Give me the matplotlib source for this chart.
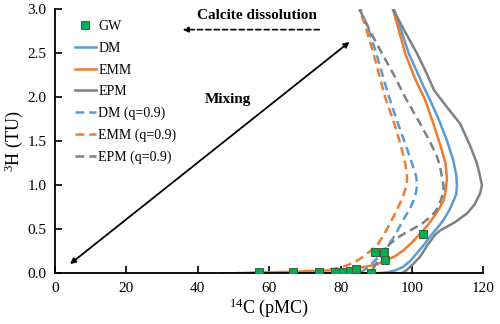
import matplotlib
matplotlib.use("Agg")
import matplotlib.pyplot as plt

plt.rcParams['font.family'] = ['Liberation Serif', 'DejaVu Serif']
plt.rcParams['mathtext.fontset'] = 'custom'
plt.rcParams['mathtext.rm'] = 'Liberation Serif'
plt.rcParams['mathtext.it'] = 'Liberation Serif:italic'

# Observed groundwater samples
gw_c = [57.2, 66.8, 73.9, 78.5, 80.6, 82.7, 84.3, 88.6, 89.6, 92.1, 92.4, 103.0]
gw_h = [0.01, 0.015, 0.01, 0.01, 0.02, 0.03, 0.05, 0.0, 0.24, 0.24, 0.15, 0.45]

# Dispersion model (DM)
dm_c = [47.0, 88.0, 91.0, 93.0, 95.5, 97.6, 99.5, 101.4, 103.3, 105.1, 107.2, 108.9,
        110.5, 111.7, 112.4, 112.6, 112.4, 111.6, 109.8, 107.5, 105.3, 103.3, 99.1, 95.0]
dm_h = [0.0, 0.0, 0.003, 0.01, 0.035, 0.075, 0.14, 0.23, 0.32, 0.42, 0.52, 0.61,
        0.72, 0.83, 0.90, 1.0, 1.12, 1.28, 1.51, 1.75, 1.95, 2.12, 2.5, 3.0]

# Exponential mixing model (EMM)
emm_c = [50.0, 60.0, 70.0, 80.0, 84.0, 86.4, 90.0, 93.0, 95.5, 97.6, 100.0, 102.3,
         104.3, 106.1, 107.7, 108.9, 109.5, 109.8, 109.4, 108.0, 106.0, 103.7, 101.0, 98.1, 94.7]
emm_h = [0.0, 0.01, 0.02, 0.04, 0.055, 0.07, 0.10, 0.15, 0.20, 0.26, 0.35, 0.45,
         0.54, 0.64, 0.74, 0.83, 0.95, 1.08, 1.25, 1.45, 1.70, 1.97, 2.2, 2.5, 3.0]

# Exponential piston-flow model (EPM)
epm_c = [47.0, 97.2, 98.6, 100.2, 102.3, 104.5, 106.5, 108.0, 109.8, 112.0, 115.4,
         117.5, 119.1, 119.6, 119.1, 118.2, 116.3, 113.5, 109.6, 106.2, 103.8, 101.4, 98.0, 94.7]
epm_h = [0.0, 0.0, 0.04, 0.10, 0.19, 0.33, 0.44, 0.49, 0.53, 0.58, 0.68,
         0.78, 0.91, 1.0, 1.10, 1.25, 1.45, 1.70, 1.90, 2.08, 2.3, 2.5, 2.75, 3.0]

# Models with q = 0.9
dmq_c = [47.0, 83.0, 84.8, 86.4, 88.3, 90.0, 91.6, 94.4, 96.0, 97.6, 99.2, 100.5,
         101.2, 101.4, 101.2, 100.0, 98.5, 96.7, 95.0, 93.0, 90.0, 87.8, 85.6]
dmq_h = [0.0, 0.0, 0.01, 0.03, 0.09, 0.16, 0.23, 0.38, 0.49, 0.61, 0.72, 0.83,
         0.93, 1.0, 1.10, 1.25, 1.43, 1.63, 1.83, 2.08, 2.5, 2.78, 3.0]

emmq_c = [50.0, 60.0, 68.0, 72.5, 76.2, 79.5, 81.8, 84.3, 86.4, 88.5, 90.6, 92.3, 93.9,
          95.4, 96.7, 97.8, 98.6, 98.6, 98.1, 96.9, 95.3, 92.5, 89.2, 86.9, 85.3]
emmq_h = [0.0, 0.008, 0.02, 0.03, 0.04, 0.06, 0.09, 0.135, 0.19, 0.26, 0.34, 0.45, 0.57,
          0.69, 0.80, 0.91, 1.02, 1.12, 1.25, 1.45, 1.67, 2.0, 2.5, 2.82, 3.0]

epmq_c = [47.0, 87.5, 88.8, 89.7, 90.6, 91.5, 92.5, 94.0, 95.8, 98.0, 100.5, 103.0, 105.1,
          106.5, 107.5, 108.4, 108.9, 108.4, 107.8, 107.0, 105.0, 102.3, 98.1, 95.0, 91.6, 88.3, 85.3]
epmq_h = [0.0, 0.0, 0.04, 0.09, 0.15, 0.22, 0.28, 0.34, 0.40, 0.455, 0.51, 0.57, 0.64,
          0.70, 0.76, 0.87, 0.98, 1.10, 1.22, 1.33, 1.50, 1.70, 2.0, 2.25, 2.5, 2.75, 3.0]

BLUE = '#5B9BD5'
ORANGE = '#ED7D31'
GRAY = '#808080'
GREEN = '#00B050'

fig = plt.figure(figsize=(5.0, 3.24), dpi=100)
ax = fig.add_axes([0.11, 0.1565, 0.8567, 0.8145])

lw = 1.8
dash = (3.5, 2.0)
h_gw, = ax.plot(gw_c, gw_h, linestyle='none', marker='s', markersize=6.2,
                markerfacecolor=GREEN, markeredgecolor='#3d5e3d', markeredgewidth=0.7,
                zorder=10, label='GW')
h_dm, = ax.plot(dm_c, dm_h, color=BLUE, lw=lw, label='DM', solid_joinstyle='round')
h_emm, = ax.plot(emm_c, emm_h, color=ORANGE, lw=lw, label='EMM', solid_joinstyle='round')
h_epm, = ax.plot(epm_c, epm_h, color=GRAY, lw=lw, label='EPM', solid_joinstyle='round')
h_dmq, = ax.plot(dmq_c, dmq_h, color=BLUE, lw=lw, dashes=dash, label='DM (q=0.9)')
h_emmq, = ax.plot(emmq_c, emmq_h, color=ORANGE, lw=lw, dashes=dash, label='EMM (q=0.9)')
h_epmq, = ax.plot(epmq_c, epmq_h, color=GRAY, lw=lw, dashes=dash, label='EPM (q=0.9)')

ax.set_xlim(0, 120)
ax.set_ylim(0, 3.0)
ax.set_xticks([0, 20, 40, 60, 80, 100, 120])
ax.set_yticks([0.0, 0.5, 1.0, 1.5, 2.0, 2.5, 3.0])
ax.set_yticklabels(['0.0', '0.5', '1.0', '1.5', '2.0', '2.5', '3.0'])
ax.tick_params(direction='in', length=5, width=1.2, labelsize=11, colors='black', pad=6)
for s in ['top', 'right']:
    ax.spines[s].set_visible(False)
for s in ['left', 'bottom']:
    ax.spines[s].set_linewidth(1.3)

ax.set_xlabel(r'$^{14}$C (pMC)', fontsize=13, labelpad=1)
ax.set_ylabel(r'$^{3}$H (TU)', fontsize=13, labelpad=2)

leg = ax.legend(handles=[h_gw, h_dm, h_emm, h_epm, h_dmq, h_emmq, h_epmq],
                loc='upper left', bbox_to_anchor=(0.03, 0.985), frameon=False,
                fontsize=10, handlelength=1.5, handletextpad=0.2,
                labelspacing=0.62, borderpad=0)

# Annotations
ax.annotate('', xy=(35.0, 2.77), xytext=(74.8, 2.77),
            arrowprops=dict(arrowstyle='-|>', color='black', lw=1.2,
                            linestyle=(0, (3, 2)), mutation_scale=8))
ax.text(56.5, 2.93, 'Calcite dissolution', fontsize=11, fontweight='bold',
        ha='center', va='center')
ax.text(48.5, 1.98, 'Mixing', fontsize=11, fontweight='bold',
        ha='center', va='center')
ax.annotate('', xy=(4.2, 0.105), xytext=(82.5, 2.63),
            arrowprops=dict(arrowstyle='<|-|>', color='black', lw=1.3,
                            mutation_scale=8, shrinkA=0, shrinkB=0))

fig.savefig('out.png', dpi=100)
